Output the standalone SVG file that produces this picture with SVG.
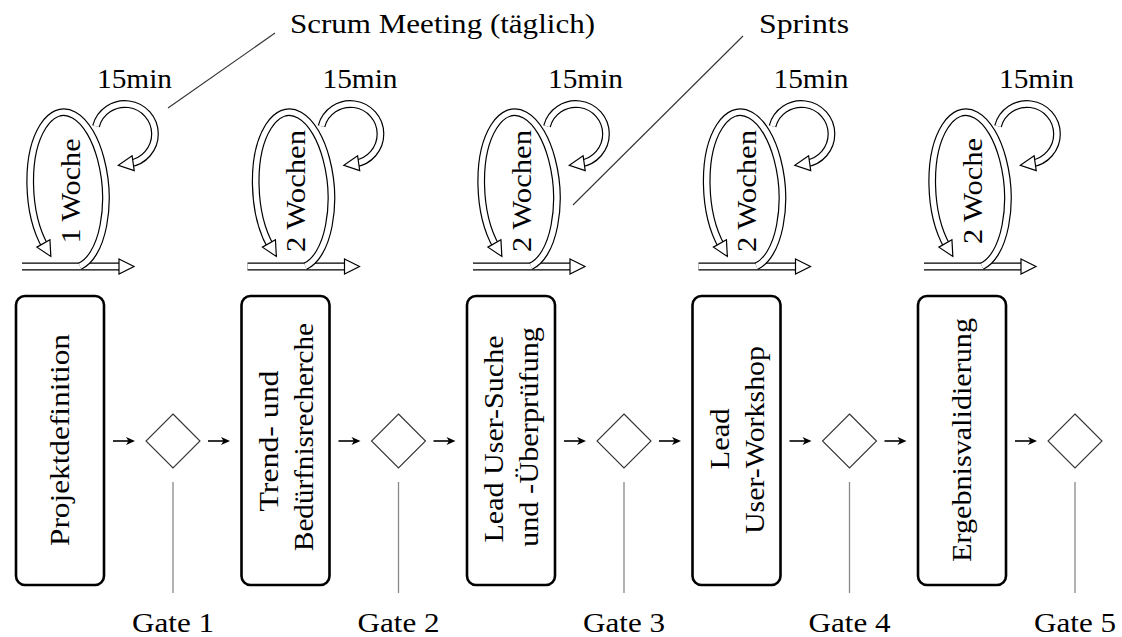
<svg xmlns="http://www.w3.org/2000/svg" xmlns:xlink="http://www.w3.org/1999/xlink" width="1122" height="637" viewBox="0 0 1122 637">
<style>
.t { font-family: "Liberation Serif", "DejaVu Serif", serif; font-size: 28px; fill: #000; }
.m { text-anchor: middle; }
.box { fill: #fff; stroke: #000; stroke-width: 2.6; }
.dia { fill: #fff; stroke: #333; stroke-width: 1.1; }
.gl { stroke: #888; stroke-width: 1.3; }
.arr { stroke: #000; stroke-width: 1.6; fill: none; marker-end: url(#stealth); }
.dblo { fill: none; stroke: #000; stroke-width: 7.8; }
.dbli { fill: none; stroke: #fff; stroke-width: 5.4; marker-end: url(#open); }
.lead { stroke: #333; stroke-width: 1.1; }
</style>
<defs>
<marker id="stealth" markerUnits="userSpaceOnUse" markerWidth="10" markerHeight="8" refX="5" refY="4" orient="auto" overflow="visible"><path d="M0,0 L9,4 L0,8 L2.5,4 Z" fill="#000"/></marker>
<marker id="open" markerUnits="userSpaceOnUse" markerWidth="16" markerHeight="17" refX="4" refY="8" orient="auto" overflow="visible"><path d="M0,0.5 L15,8 L0,15.5 Z" fill="#fff" stroke="#000" stroke-width="1.2"/></marker>
<g id="loop">
  <path class="dblo" d="M6 266.5 H107"/>
  <path class="dbli" d="M6 266.5 H107"/>
  <path class="dblo" d="M63.9 266.2 A37.5 78 -4 1 0 29.4 246.9"/>
  <path class="dbli" d="M63.9 266.2 A37.5 78 -4 1 0 29.4 246.9"/>
  <path class="dblo" d="M80 126.2 A30 30 0 1 1 113.2 163.7"/>
  <path class="dbli" d="M80 126.2 A30 30 0 1 1 113.2 163.7"/>
</g>
</defs>

<g id="labels">
  <text class="t" x="290" y="33" textLength="305" lengthAdjust="spacingAndGlyphs">Scrum Meeting (täglich)</text>
  <text class="t" x="759" y="33" textLength="90" lengthAdjust="spacingAndGlyphs">Sprints</text>
  <line class="lead" x1="168" y1="108" x2="275" y2="33"/>
  <line class="lead" x1="573" y1="205" x2="743" y2="36"/>
</g>

<g id="sprint1">
  <use xlink:href="#loop" href="#loop" transform="translate(16,0)"/>
  <text class="t m" x="134.5" y="88" textLength="75" lengthAdjust="spacingAndGlyphs">15min</text>
  <text class="t m" transform="translate(79.5,191) rotate(-90)" textLength="105" lengthAdjust="spacingAndGlyphs">1 Woche</text>
</g>
<g id="sprint2">
  <use xlink:href="#loop" href="#loop" transform="translate(241.5,0)"/>
  <text class="t m" x="360" y="88" textLength="75" lengthAdjust="spacingAndGlyphs">15min</text>
  <text class="t m" transform="translate(305,191) rotate(-90)" textLength="122" lengthAdjust="spacingAndGlyphs">2 Wochen</text>
</g>
<g id="sprint3">
  <use xlink:href="#loop" href="#loop" transform="translate(467,0)"/>
  <text class="t m" x="585.5" y="88" textLength="75" lengthAdjust="spacingAndGlyphs">15min</text>
  <text class="t m" transform="translate(530.5,191) rotate(-90)" textLength="122" lengthAdjust="spacingAndGlyphs">2 Wochen</text>
</g>
<g id="sprint4">
  <use xlink:href="#loop" href="#loop" transform="translate(692.5,0)"/>
  <text class="t m" x="811" y="88" textLength="75" lengthAdjust="spacingAndGlyphs">15min</text>
  <text class="t m" transform="translate(756,191) rotate(-90)" textLength="122" lengthAdjust="spacingAndGlyphs">2 Wochen</text>
</g>
<g id="sprint5">
  <use xlink:href="#loop" href="#loop" transform="translate(918,0)"/>
  <text class="t m" x="1036.5" y="88" textLength="75" lengthAdjust="spacingAndGlyphs">15min</text>
  <text class="t m" transform="translate(981.5,191) rotate(-90)" textLength="106" lengthAdjust="spacingAndGlyphs">2 Woche</text>
</g>

<g id="connectors">
  <path class="arr" d="M113 441 H131"/>
  <path class="arr" d="M208 441 H226"/>
  <path class="arr" d="M338.5 441 H356.5"/>
  <path class="arr" d="M433.5 441 H451.5"/>
  <path class="arr" d="M564 441 H582"/>
  <path class="arr" d="M659 441 H677"/>
  <path class="arr" d="M789.5 441 H807.5"/>
  <path class="arr" d="M884.5 441 H902.5"/>
  <path class="arr" d="M1015 441 H1033"/>
  <line class="gl" x1="173" y1="482" x2="173" y2="593"/>
  <line class="gl" x1="398.5" y1="482" x2="398.5" y2="593"/>
  <line class="gl" x1="624" y1="482" x2="624" y2="593"/>
  <line class="gl" x1="849.5" y1="482" x2="849.5" y2="593"/>
  <line class="gl" x1="1075" y1="482" x2="1075" y2="593"/>
</g>

<g id="box1">
  <rect class="box" x="16" y="296" width="88" height="289" rx="9"/>
  <text class="t m" transform="translate(69,440) rotate(-90)" textLength="212" lengthAdjust="spacingAndGlyphs">Projektdefinition</text>
</g>
<g id="box2">
  <rect class="box" x="241.5" y="296" width="88" height="289" rx="9"/>
  <text class="t m" transform="translate(277.5,441) rotate(-90)" textLength="141" lengthAdjust="spacingAndGlyphs">Trend- und</text>
  <text class="t m" transform="translate(312.5,437) rotate(-90)" textLength="228" lengthAdjust="spacingAndGlyphs">Bedürfnisrecherche</text>
</g>
<g id="box3">
  <rect class="box" x="467" y="296" width="88" height="289" rx="9"/>
  <text class="t m" transform="translate(503,439) rotate(-90)" textLength="207" lengthAdjust="spacingAndGlyphs">Lead User-Suche</text>
  <text class="t m" transform="translate(538,437) rotate(-90)" textLength="220" lengthAdjust="spacingAndGlyphs">und -Überprüfung</text>
</g>
<g id="box4">
  <rect class="box" x="692.5" y="296" width="88" height="289" rx="9"/>
  <text class="t m" transform="translate(728.5,439) rotate(-90)" textLength="61" lengthAdjust="spacingAndGlyphs">Lead</text>
  <text class="t m" transform="translate(763.5,440) rotate(-90)" textLength="188" lengthAdjust="spacingAndGlyphs">User-Workshop</text>
</g>
<g id="box5">
  <rect class="box" x="918" y="296" width="88" height="289" rx="9"/>
  <text class="t m" transform="translate(971,440) rotate(-90)" textLength="244" lengthAdjust="spacingAndGlyphs">Ergebnisvalidierung</text>
</g>

<g id="gate1">
  <polygon class="dia" points="173,414 200,441 173,468 146,441"/>
  <text class="t m" x="173" y="632" textLength="82" lengthAdjust="spacingAndGlyphs">Gate 1</text>
</g>
<g id="gate2">
  <polygon class="dia" points="398.5,414 425.5,441 398.5,468 371.5,441"/>
  <text class="t m" x="398.5" y="632" textLength="82" lengthAdjust="spacingAndGlyphs">Gate 2</text>
</g>
<g id="gate3">
  <polygon class="dia" points="624,414 651,441 624,468 597,441"/>
  <text class="t m" x="624" y="632" textLength="82" lengthAdjust="spacingAndGlyphs">Gate 3</text>
</g>
<g id="gate4">
  <polygon class="dia" points="849.5,414 876.5,441 849.5,468 822.5,441"/>
  <text class="t m" x="849.5" y="632" textLength="82" lengthAdjust="spacingAndGlyphs">Gate 4</text>
</g>
<g id="gate5">
  <polygon class="dia" points="1075,414 1102,441 1075,468 1048,441"/>
  <text class="t m" x="1075" y="632" textLength="82" lengthAdjust="spacingAndGlyphs">Gate 5</text>
</g>
</svg>
